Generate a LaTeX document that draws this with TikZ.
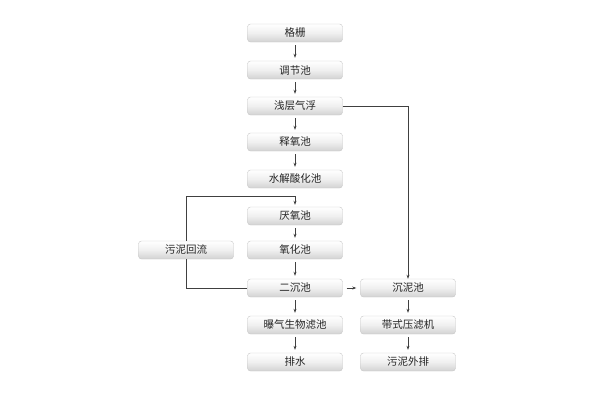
\documentclass[tikz,border=0pt]{standalone}
\usepackage{fontspec}
\newfontfamily\cjk{Noto Sans CJK SC}
\usetikzlibrary{arrows.meta}
\begin{document}
\begin{tikzpicture}[x=1pt,y=-1pt,
 box/.style={rounded corners=3pt,minimum width=95pt,minimum height=18pt,draw=gray!45,
   top color=white,bottom color=gray!35,middle color=gray!12,font=\cjk\fontsize{10.5}{12}\selectfont,text=black!85,inner sep=0pt},
 arr/.style={-{Stealth[length=4pt,width=3pt]},black!75,line width=0.6pt},
 ln/.style={black!75,line width=0.6pt}]
\useasboundingbox (0,0) rectangle (600,400);
\node[box] (a1) at (295,33) {格栅};
\node[box] (a2) at (295,70) {调节池};
\node[box] (a3) at (295,106) {浅层气浮};
\node[box] (a4) at (295,142) {释氧池};
\node[box] (a5) at (295,179) {水解酸化池};
\node[box] (a6) at (295,216) {厌氧池};
\node[box] (a7) at (295,250) {氧化池};
\node[box] (a8) at (295,288) {二沉池};
\node[box] (a9) at (295,325) {曝气生物滤池};
\node[box] (a10) at (295,362) {排水};
\node[box] (b1) at (408,288) {沉泥池};
\node[box] (b2) at (408,325) {带式压滤机};
\node[box] (b3) at (408,362) {污泥外排};
\node[box] (c) at (186,250) {污泥回流};
\foreach \u/\v in {a1/a2,a2/a3,a3/a4,a4/a5,a6/a7,a7/a8,a8/a9,a9/a10,b1/b2,b2/b3}
  \draw[arr] ([yshift=-3pt]\u.south) -- ([yshift=3pt]\v.north);
\coordinate (t) at (295,196);
\draw[ln] (a5.south) ++(0,-0) ;
\draw[arr] (c.north) |- (t) -- ([yshift=2pt]a6.north);
\draw[ln] (c.south) |- (a8.west);
\draw[arr] (a3.east) -| (b1.north);
\draw[arr] ([xshift=4pt]a8.east) -- ([xshift=-4pt]b1.west);
\end{tikzpicture}
\end{document}
